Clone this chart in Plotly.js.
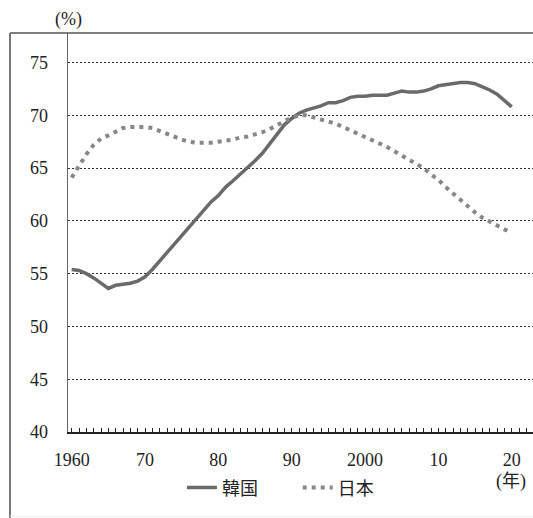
<!DOCTYPE html>
<html>
<head>
<meta charset="utf-8">
<script src="https://cdn.plot.ly/plotly-3.0.1.min.js"></script>
<style>
html,body{margin:0;padding:0;background:#fff;}
#chart{width:533px;height:518px;}
</style>
</head>
<body>
<div id="chart"></div>
<script>
const years = [];
for (let y = 1960; y <= 2020; y++) years.push(y);

const korea = [55.4, 55.3, 55.0, 54.6, 54.1, 53.6, 53.9, 54.0, 54.1, 54.3,
  54.7, 55.4, 56.2, 57.0, 57.8, 58.6, 59.4, 60.3, 61.1, 61.8,
  62.4, 63.2, 63.8, 64.4, 65.0, 65.7, 66.4, 67.3, 68.3, 69.1,
  69.7, 70.2, 70.5, 70.7, 70.9, 71.2, 71.2, 71.4, 71.7, 71.8,
  71.8, 71.9, 71.9, 71.9, 72.1, 72.3, 72.2, 72.2, 72.3, 72.5,
  72.8, 72.9, 73.0, 73.1, 73.1, 73.0, 72.7, 72.4, 72.0, 71.4,
  70.8];

const japan = [64.1, 65.2, 66.3, 67.2, 67.8, 68.1, 68.5, 68.8, 68.9, 68.9,
  68.9, 68.8, 68.5, 68.2, 67.9, 67.7, 67.5, 67.4, 67.4, 67.4,
  67.5, 67.6, 67.7, 67.9, 68.0, 68.2, 68.4, 68.7, 69.1, 69.5,
  69.8, 70.0, 70.0, 69.8, 69.6, 69.4, 69.2, 68.9, 68.6, 68.3,
  68.0, 67.7, 67.3, 67.0, 66.6, 66.2, 65.8, 65.3, 65.0, 64.4,
  63.9, 63.2, 62.6, 61.9, 61.3, 60.8, 60.3, 59.9, 59.5, 59.2,
  58.9];

const xTickVals = [1960, 1970, 1980, 1990, 2000, 2010, 2020];
const xTickText = ['1960', '70', '80', '90', '2000', '10', '20'];
const yTickVals = [40, 45, 50, 55, 60, 65, 70, 75];

const serif = 'Liberation Serif, Noto Sans CJK JP, serif';
const fnt = {family: serif, size: 18, color: '#222'};

const traces = [
  {x: years, y: korea, name: '韓国', type: 'scatter', mode: 'lines', legend: 'legend',
   line: {color: '#6a6a6a', width: 3.5}},
  {x: years, y: japan, name: '日本', type: 'scatter', mode: 'lines', legend: 'legend2',
   line: {color: '#878787', width: 4, dash: '4px,5px'}}
];

const layout = {
  width: 533, height: 518,
  margin: {l: 68, r: 0, t: 33, b: 86},
  paper_bgcolor: '#fff', plot_bgcolor: '#fff',
  font: fnt,
  showlegend: true,
  legend: {orientation: 'h', x: 0.245, xanchor: 'left', y: -0.14, yanchor: 'middle',
           font: fnt, bgcolor: 'rgba(0,0,0,0)'},
  legend2: {orientation: 'h', x: 0.494, xanchor: 'left', y: -0.14, yanchor: 'middle',
           font: fnt, bgcolor: 'rgba(0,0,0,0)'},
  xaxis: {
    range: [1959.5, 2022.9], tickvals: xTickVals, ticktext: xTickText,
    ticks: 'inside', ticklen: 4, tickcolor: '#222', tickwidth: 1,
    minor: {dtick: 1, tick0: 1960, ticks: 'inside', ticklen: 4, tickcolor: '#222', tickwidth: 1, showgrid: false},
    showgrid: false, zeroline: false, showline: true, linecolor: '#222', linewidth: 1.5,
    ticklabelstandoff: 11, fixedrange: true, tickfont: fnt
  },
  yaxis: {
    range: [40, 77.8], tickvals: yTickVals, ticks: '',
    showgrid: true, gridcolor: '#333', gridwidth: 1, griddash: '2px,2px',
    zeroline: false, showline: true, linecolor: '#666', linewidth: 1.5,
    ticklabelstandoff: 15, fixedrange: true, tickfont: fnt
  },
  shapes: [
    {type: 'line', xref: 'paper', yref: 'paper', x0: -0.1247, x1: 1, y0: 1, y1: 1,
     line: {color: '#555', width: 1.5}},
    {type: 'line', xref: 'paper', yref: 'paper', x0: -0.1247, x1: -0.1247, y0: 1, y1: -0.216,
     line: {color: '#777', width: 2}},
    {type: 'line', xref: 'paper', yref: 'paper', x0: -0.1247, x1: 1, y0: -0.211, y1: -0.211,
     line: {color: '#eee', width: 1}}
  ],
  annotations: [
    {text: '(%)', xref: 'paper', yref: 'paper', x: 0, y: 1.035, xanchor: 'center', yanchor: 'middle',
     showarrow: false, font: fnt},
    {text: '(年)', xref: 'paper', yref: 'paper', x: 0.989, y: -0.125, xanchor: 'right', yanchor: 'middle',
     showarrow: false, font: fnt}
  ]
};

Plotly.newPlot('chart', traces, layout, {displayModeBar: false, staticPlot: true});
</script>
</body>
</html>
